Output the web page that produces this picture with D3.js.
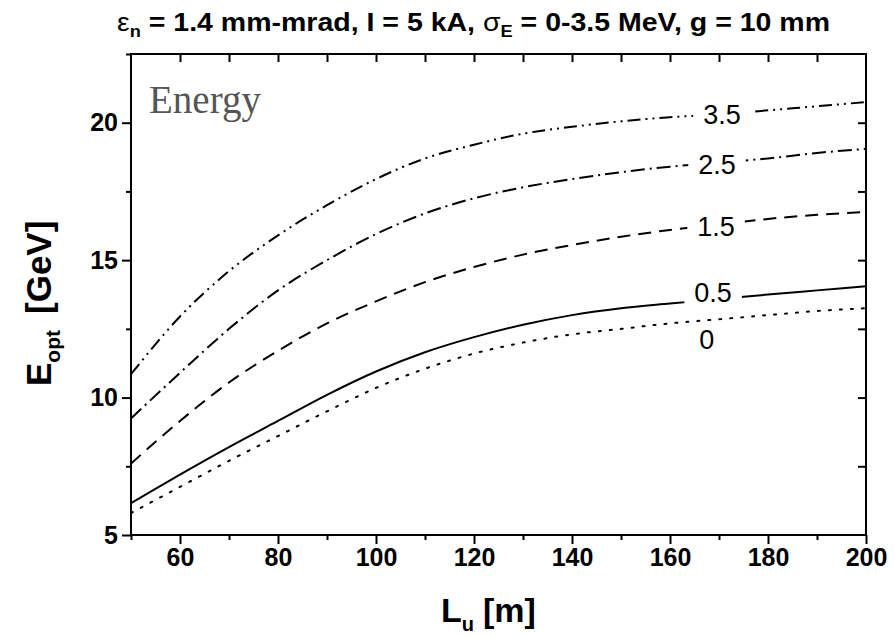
<!DOCTYPE html>
<html>
<head>
<meta charset="utf-8">
<script src="https://cdn.jsdelivr.net/npm/d3@7"></script>
<style>
  html, body { margin: 0; padding: 0; background: #fff; }
  svg { display: block; }
</style>
</head>
<body>
<svg id="chart" width="894" height="637" font-family="'Liberation Sans', Arial, sans-serif"></svg>
<script>
// Undulator length L_u [m]
const lengths = [50, 60, 70, 80, 90, 100, 110, 120, 130, 140, 150, 160, 170, 180, 190, 200];

// Optimal energy E_opt [GeV] for each energy spread sigma_E [MeV]
const spread0   = [5.8, 6.75, 7.7, 8.6, 9.5, 10.35, 11.05, 11.6, 12.0, 12.3, 12.5, 12.7, 12.85, 13.0, 13.15, 13.25];
const spread0_5 = [6.16, 7.2, 8.2, 9.15, 10.1, 10.95, 11.65, 12.2, 12.65, 13.0, 13.25, 13.42, 13.58, 13.75, 13.9, 14.05];
const spread1_5 = [7.6, 9.15, 10.55, 11.7, 12.7, 13.5, 14.2, 14.75, 15.2, 15.55, 15.85, 16.1, 16.3, 16.5, 16.65, 16.75];
const spread2_5 = [9.24, 10.9, 12.5, 13.9, 15.0, 15.95, 16.7, 17.25, 17.65, 17.95, 18.2, 18.4, 18.55, 18.7, 18.9, 19.05];
const spread3_5 = [10.85, 12.95, 14.6, 15.9, 17.0, 17.95, 18.7, 19.2, 19.6, 19.85, 20.05, 20.2, 20.3, 20.45, 20.6, 20.75];

const curveNames = ["0", "0.5", "1.5", "2.5", "3.5"];
const curveValues = [spread0, spread0_5, spread1_5, spread2_5, spread3_5];
// undulator length at which each curve's label sits
const labelAt = [167.5, 168.8, 169.4, 169.6, 170.6];

const xTicks = [60, 80, 100, 120, 140, 160, 180, 200];
const yTicks = [5, 10, 15, 20];

const svg = d3.select("#chart");
const margin = { left: 131, right: 28, top: 54, bottom: 102 };
const W = 894, H = 637;

const x = d3.scaleLinear().domain([50, 200]).range([margin.left, W - margin.right]);
const y = d3.scaleLinear().domain([5, 22.5]).range([H - margin.bottom, margin.top]);

const dashes = ["2,9", null, "13,8", "14,5,2,5", "13,5,2,5,2,5"];

// curves
const line = d3.line().x(d => x(d[0])).y(d => y(d[1])).curve(d3.curveMonotoneX);
const plot = svg.append("g");
curveValues.forEach((vals, i) => {
  plot.append("path")
    .datum(lengths.map((L, j) => [L, vals[j]]))
    .attr("d", line)
    .attr("fill", "none")
    .attr("stroke", "#000")
    .attr("stroke-width", 2)
    .attr("stroke-linecap", i === 0 ? "round" : "butt")
    .attr("stroke-dasharray", dashes[i]);
});

// curve labels on a white backing that breaks the line
const interp = (vals, L) => {
  const j = d3.bisectRight(lengths, L) - 1;
  const t = (L - lengths[j]) / (lengths[j + 1] - lengths[j]);
  return vals[j] + t * (vals[j + 1] - vals[j]);
};
const labelShift = [19, -7, 2, 2, 0];
curveNames.forEach((name, i) => {
  const L = labelAt[i];
  const cx = x(L);
  const cy = y(interp(curveValues[i], L)) + labelShift[i];
  const g = svg.append("g");
  const t = g.append("text")
    .attr("x", cx).attr("y", cy + 9.5)
    .attr("text-anchor", "middle")
    .attr("font-size", 27)
    .text(name);
  const bb = t.node().getBBox();
  if (i > 0) {
    g.insert("rect", "text")
      .attr("x", bb.x - 10).attr("y", cy - 14)
      .attr("width", bb.width + 20).attr("height", 28)
      .attr("fill", "#fff");
  }
});

// frame
svg.append("rect")
  .attr("x", margin.left).attr("y", margin.top)
  .attr("width", W - margin.left - margin.right)
  .attr("height", H - margin.top - margin.bottom)
  .attr("fill", "none").attr("stroke", "#000").attr("stroke-width", 2);

const minorX = d3.range(50, 201, 10).filter(v => !xTicks.includes(v));
const minorY = [7.5, 12.5, 17.5, 22.5];

// bottom axis
svg.append("g").attr("transform", `translate(0,${y(5)})`)
  .call(d3.axisBottom(x).tickValues(xTicks).tickSize(9).tickPadding(4).tickFormat(d3.format("d")));
svg.append("g").attr("transform", `translate(0,${y(5)})`)
  .call(d3.axisBottom(x).tickValues(minorX).tickSize(5).tickFormat(""));
// left axis
svg.append("g").attr("transform", `translate(${x(50)},0)`)
  .call(d3.axisLeft(y).tickValues(yTicks).tickSize(9).tickPadding(4).tickFormat(d3.format("d")));
svg.append("g").attr("transform", `translate(${x(50)},0)`)
  .call(d3.axisLeft(y).tickValues(minorY).tickSize(5).tickFormat(""));
// top and right axes, ticks pointing inward
svg.append("g").attr("transform", `translate(0,${y(22.5)})`)
  .call(d3.axisBottom(x).tickValues(d3.range(60, 200, 10)).tickSize(8).tickFormat(""));
svg.append("g").attr("transform", `translate(${x(200)},0)`)
  .call(d3.axisLeft(y).tickValues([7.5, 10, 12.5, 15, 17.5, 20]).tickSize(8).tickFormat(""));

svg.selectAll(".domain").remove();
svg.selectAll(".tick line").attr("stroke", "#000").attr("stroke-width", 2);
svg.selectAll(".tick text")
  .attr("fill", "#000")
  .attr("font-size", 25)
  .attr("font-weight", "bold")
  .attr("font-family", "'Liberation Sans', Arial, sans-serif");

// inset label
svg.append("text")
  .attr("x", 149).attr("y", 113)
  .attr("font-family", "'Liberation Serif', 'Times New Roman', serif")
  .attr("font-size", 39)
  .attr("fill", "#555")
  .text("Energy");

// title
const title = svg.append("text")
  .attr("x", 117).attr("y", 31)
  .attr("font-size", 25)
  .attr("font-weight", "bold")
  .attr("textLength", 713)
  .attr("lengthAdjust", "spacingAndGlyphs");
title.append("tspan").attr("font-weight", "normal").text("ε");
title.append("tspan").attr("dy", 6).attr("font-size", 16).text("n");
title.append("tspan").attr("dy", -6).text(" = 1.4 mm-mrad, I = 5 kA, ");
title.append("tspan").attr("font-weight", "normal").text("σ");
title.append("tspan").attr("dy", 6).attr("font-size", 16).text("E");
title.append("tspan").attr("dy", -6).text(" = 0-3.5 MeV, g = 10 mm");

// x axis label
const xl = svg.append("text")
  .attr("x", 441).attr("y", 622)
  .attr("font-size", 34)
  .attr("font-weight", "bold");
xl.append("tspan").text("L");
xl.append("tspan").attr("dy", 9).attr("font-size", 20).text("u");
xl.append("tspan").attr("dy", -9).attr("dx", 9).text("[m]");

// y axis label
const yl = svg.append("text")
  .attr("transform", `translate(51,386) rotate(-90)`)
  .attr("font-size", 35)
  .attr("font-weight", "bold");
yl.append("tspan").text("E");
yl.append("tspan").attr("dy", 9).attr("font-size", 21).text("opt");
yl.append("tspan").attr("dy", -9).attr("dx", 16).text("[GeV]");
</script>
</body>
</html>
